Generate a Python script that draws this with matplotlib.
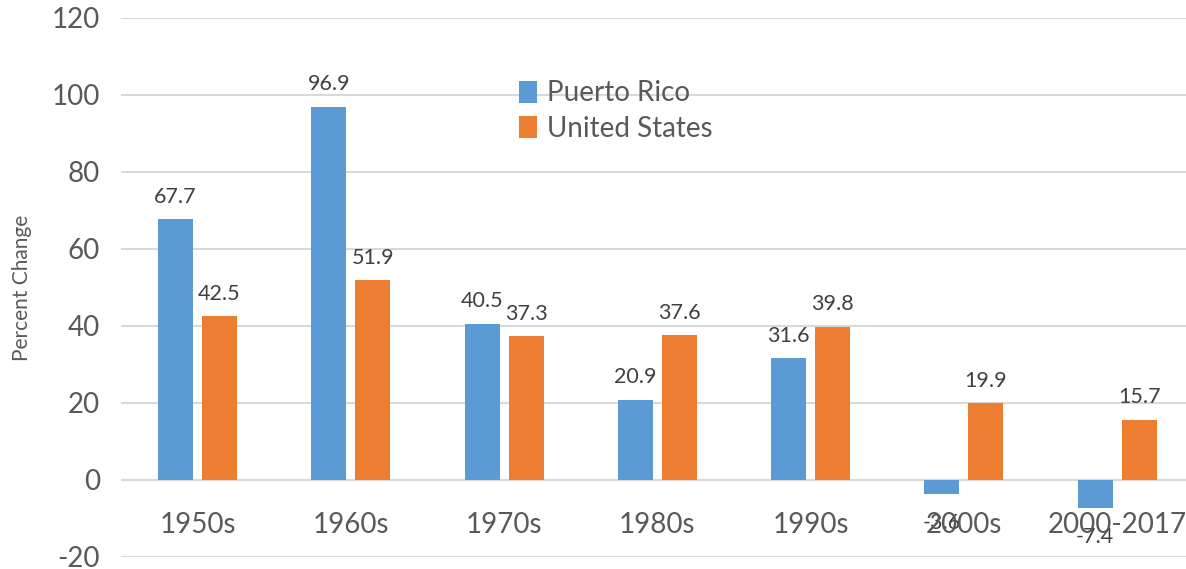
import numpy as np
import matplotlib
matplotlib.use('Agg')
import matplotlib.pyplot as plt

periods = ['1950s', '1960s', '1970s', '1980s', '1990s', '2000s', '2000-2017']
puerto_rico = [67.7, 96.9, 40.5, 20.9, 31.6, -3.6, -7.4]
united_states = [42.5, 51.9, 37.3, 37.6, 39.8, 19.9, 15.7]
y_ticks = [-20, 0, 20, 40, 60, 80, 100, 120]

plt.rcParams['font.family'] = ['Lato', 'DejaVu Sans']
plt.rcParams['axes.unicode_minus'] = False

fig = plt.figure(figsize=(11.86, 5.69), dpi=100)
ax = fig.add_axes([0.1019, 0.0211, 0.9047, 0.9473])

x = np.arange(len(periods))
w = 0.228
off = 0.1435
b1 = ax.bar(x - off, puerto_rico, w, color='#5B9BD5', label='Puerto Rico', zorder=3)
b2 = ax.bar(x + off, united_states, w, color='#ED7D31', label='United States', zorder=3)

# data labels
for bars, vals in ((b1, puerto_rico), (b2, united_states)):
    for rect, v in zip(bars, vals):
        cx = rect.get_x() + rect.get_width() / 2
        dy = 12 if v >= 0 else -25
        ax.annotate(f'{v:g}', (cx, v), xytext=(0, dy), textcoords='offset points',
                    ha='center', va='baseline', fontsize=15.5, color='#404040', zorder=4)

# category labels sit just under the zero line
for i, p in enumerate(periods):
    ax.annotate(p, (i, 0), xytext=(0, -38), textcoords='offset points',
                ha='center', va='baseline', fontsize=20, color='#595959', zorder=4)

ax.set_xlim(-0.5, len(periods) - 0.5)
ax.set_ylim(-20, 120)
ax.set_yticks(y_ticks)
ax.set_xticks([])
ax.tick_params(axis='y', length=0, pad=15, labelsize=20, labelcolor='#595959')
ax.grid(axis='y', color='#d9d9d9', linewidth=1.5, zorder=0)
for s in ax.spines.values():
    s.set_visible(False)
ax.set_ylabel('Percent Change', fontsize=15, color='#595959', labelpad=14)

ax.legend(loc='upper left', bbox_to_anchor=(0.4376, 0.859), bbox_transform=fig.transFigure,
          frameon=False, fontsize=20, handlelength=0.65, handleheight=0.84,
          handletextpad=0.35, labelspacing=0.35, borderpad=0, borderaxespad=0,
          labelcolor='#595959')

plt.savefig('out.png', dpi=100)
